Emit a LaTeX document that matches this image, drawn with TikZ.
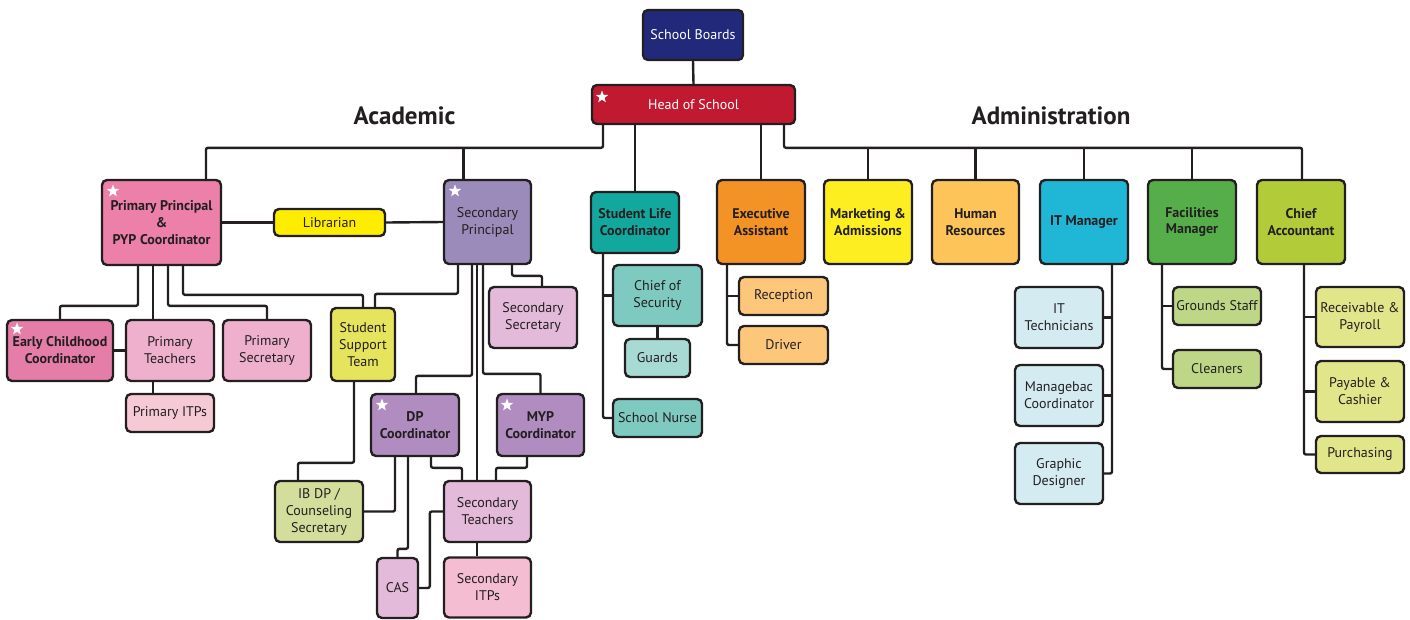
\documentclass[tikz,border=0pt]{standalone}
\usepackage{fontspec}
\setmainfont{PT Sans}
\usetikzlibrary{shapes.geometric}
\definecolor{ln}{HTML}{231F20}
\definecolor{txt}{HTML}{231F20}
\definecolor{cSB}{HTML}{23297A}
\definecolor{cHoS}{HTML}{C1192F}
\definecolor{cPP}{HTML}{EC80A8}
\definecolor{cLib}{HTML}{FFED00}
\definecolor{cSP}{HTML}{9A8BBB}
\definecolor{cSLC}{HTML}{13A89E}
\definecolor{cEA}{HTML}{F39325}
\definecolor{cMA}{HTML}{FCEE21}
\definecolor{cHR}{HTML}{FDC45A}
\definecolor{cIT}{HTML}{1FB7D5}
\definecolor{cFM}{HTML}{56AE4A}
\definecolor{cCA}{HTML}{B2CB38}
\definecolor{cECC}{HTML}{E57DA9}
\definecolor{cPT}{HTML}{EEB0CD}
\definecolor{cPITP}{HTML}{F6CAD5}
\definecolor{cSST}{HTML}{E6E35C}
\definecolor{cSS}{HTML}{E3BAD9}
\definecolor{cDP}{HTML}{B08CC0}
\definecolor{cIB}{HTML}{D3DD9C}
\definecolor{cSITP}{HTML}{F4BDD2}
\definecolor{cCoS}{HTML}{7ECAC0}
\definecolor{cGu}{HTML}{A8DAD4}
\definecolor{cRec}{HTML}{FCC77B}
\definecolor{cITT}{HTML}{D3EBF1}
\definecolor{cGS}{HTML}{BDD786}
\definecolor{cRP}{HTML}{E2E68A}
\tikzset{
  box/.style={draw=ln, line width=2.4pt, rounded corners=5pt, align=center,
    inner sep=1pt, text=txt, font=\fontsize{14}{17}\selectfont},
  bbox/.style={box, font=\fontsize{14}{17}\selectfont\bfseries},
  wh/.style 2 args={minimum width=#1, minimum height=#2},
  conn/.style={draw=ln, line width=2.4pt, rounded corners=2pt},
  starn/.style={star, star points=5, star point ratio=2.4, fill=white,
    draw=none, minimum size=13pt, inner sep=0pt},
  head/.style={text=txt, font=\fontsize{25}{30}\selectfont\bfseries}
}
\begin{document}
\begin{tikzpicture}[x=1pt,y=-1pt]
\useasboundingbox (0,0) rectangle (1410,619);
% top
\node[box,fill=cSB,text=white,wh={100}{50}] (sb) at (693,35) {School Boards};
\node[box,fill=cHoS,text=white,wh={203}{39}] (hos) at (693.5,104.5) {Head of School};
\node[head] (acad) at (404.5,116) {Academic};
\node[head] (admin) at (1051,116) {Administration};
% row 1
\node[bbox,fill=cPP,wh={119}{85}] (pp) at (161.5,222.5) {Primary Principal\\\&\\PYP Coordinator};
\node[box,fill=cLib,wh={111}{27}] (lib) at (329.5,222.5) {Librarian};
\node[box,fill=cSP,wh={87}{84}] (sp) at (487.5,222) {Secondary\\Principal};
\node[bbox,fill=cSLC,wh={88}{61}] (slc) at (635,222.5) {Student Life\\Coordinator};
\node[bbox,fill=cEA,wh={88}{84}] (ea) at (761,222) {Executive\\Assistant};
\node[bbox,fill=cMA,wh={88}{84}] (ma) at (868,222) {Marketing \&\\Admissions};
\node[bbox,fill=cHR,wh={87}{84}] (hr) at (975.5,222) {Human\\Resources};
\node[bbox,fill=cIT,wh={88}{84}] (it) at (1084,222) {IT Manager};
\node[bbox,fill=cFM,wh={88}{84}] (fm) at (1192,222) {Facilities\\Manager};
\node[bbox,fill=cCA,wh={88}{84}] (ca) at (1301,222) {Chief\\Accountant};
% primary
\node[bbox,fill=cECC,wh={106}{61}] (ecc) at (60,350.5) {Early Childhood\\Coordinator};
\node[box,fill=cPT,wh={88}{61}] (pt) at (170,350.5) {Primary\\Teachers};
\node[box,fill=cPT,wh={88}{61}] (ps) at (267,350.5) {Primary\\Secretary};
\node[box,fill=cPITP,wh={88}{38}] (pitp) at (170,413) {Primary ITPs};
\node[box,fill=cSST,wh={64}{73}] (sst) at (363,344.5) {Student\\Support\\Team};
% secondary
\node[box,fill=cSS,wh={88}{61}] (ss) at (533,317.5) {Secondary\\Secretary};
\node[bbox,fill=cDP,wh={88}{62}] (dp) at (415,425) {DP\\Coordinator};
\node[bbox,fill=cDP,wh={87}{62}] (myp) at (540.5,425) {MYP\\Coordinator};
\node[box,fill=cIB,wh={88}{61}] (ibdp) at (319,511.5) {IB DP /\\Counseling\\Secretary};
\node[box,fill=cSS,wh={87}{61}] (st) at (487.5,511.5) {Secondary\\Teachers};
\node[box,fill=cSS,wh={41}{60},inner sep=0pt] (cas) at (397.5,588) {CAS};
\node[box,fill=cSITP,wh={87}{60}] (sitp) at (487.5,587.5) {Secondary\\ITPs};
% student life
\node[box,fill=cCoS,wh={89}{61}] (cos) at (657.5,295.5) {Chief of\\Security};
\node[box,fill=cGu,wh={65}{38}] (guards) at (657.5,358) {Guards};
\node[box,fill=cCoS,wh={89}{38}] (sn) at (657.5,418) {School Nurse};
% executive
\node[box,fill=cRec,wh={89}{38}] (rec) at (783.5,296) {Reception};
\node[box,fill=cRec,wh={89}{38}] (drv) at (783.5,345) {Driver};
% IT
\node[box,fill=cITT,wh={88}{61}] (itt) at (1059,317.5) {IT\\Technicians};
\node[box,fill=cITT,wh={88}{61}] (mbc) at (1059,395.5) {Managebac\\Coordinator};
\node[box,fill=cITT,wh={88}{61}] (gd) at (1059,473.5) {Graphic\\Designer};
% facilities
\node[box,fill=cGS,wh={88}{38}] (gs) at (1217,306) {Grounds Staff};
\node[box,fill=cGS,wh={88}{38}] (cl) at (1217,369) {Cleaners};
% accountant
\node[box,fill=cRP,wh={88}{60}] (rp) at (1360,317) {Receivable \&\\Payroll};
\node[box,fill=cRP,wh={88}{61}] (pc) at (1360,391.5) {Payable \&\\Cashier};
\node[box,fill=cRP,wh={88}{37}] (pu) at (1360,454.5) {Purchasing};
% stars
\node[starn] (s1) at (602,97) {};
\node[starn] (s2) at (113,191) {};
\node[starn] (s3) at (455,191) {};
\node[starn] (s4) at (17,329) {};
\node[starn] (s5) at (382,405) {};
\node[starn] (s6) at (507,405) {};
% connectors top
\draw[conn] (sb.south) -- (hos.north);
\draw[conn] ([xshift=-90.5pt]hos.south) |- ([xshift=44.5pt,yshift=31pt]pp.north) -- ([xshift=44.5pt]pp.north);
\draw[conn] ([xshift=-24pt,yshift=31pt]sp.north) -- ([xshift=-24pt]sp.north);
\draw[conn] (slc.north |- hos.south) -- (slc.north);
\draw[conn] (ea.north |- hos.south) -- (ea.north);
\draw[conn] ([xshift=90.5pt]hos.south) |- ([xshift=1pt,yshift=31pt]ca.north) -- ([xshift=1pt]ca.north);
\foreach \n in {ma,hr,it,fm} \draw[conn] ([yshift=31pt]\n.north) -- (\n.north);
% primary
\draw[conn] (pp.east) -- (lib.west);
\draw[conn] (lib.east) -- (sp.west);
\draw[conn] ([xshift=-23.5pt]pp.south) |- ([yshift=13pt]ecc.north) -- (ecc.north);
\draw[conn] ([xshift=-8.5pt]pp.south) -- ([xshift=-17pt]pt.north);
\draw[conn] ([xshift=6.5pt]pp.south) |- ([yshift=13pt]ps.north) -- (ps.north);
\draw[conn] ([xshift=21.5pt]pp.south) |- ([yshift=12pt]sst.north) -- (sst.north);
\draw[conn] (ecc.east) -- (pt.west);
\draw[conn] ([xshift=-17pt]pt.south) -- ([xshift=-17pt]pitp.north);
% secondary
\draw[conn] ([xshift=-29.5pt]sp.south) |- ([xshift=12pt,yshift=13pt]sst.north) -- ([xshift=12pt]sst.north);
\draw[conn] ([xshift=-15.5pt]sp.south) |- ([xshift=1pt,yshift=17pt]dp.north) -- ([xshift=1pt]dp.north);
\draw[conn] ([xshift=-10.5pt]sp.south) -- ([xshift=-10.5pt]st.north);
\draw[conn] ([xshift=-4.5pt]sp.south) |- ([yshift=19pt]myp.north) -- (myp.north);
\draw[conn] ([xshift=24.5pt]sp.south) |- ([xshift=9pt,yshift=10pt]ss.north) -- ([xshift=9pt]ss.north);
\draw[conn] ([xshift=-9pt]sst.south) |- ([xshift=-21pt,yshift=17pt]ibdp.north) -- ([xshift=-21pt]ibdp.north);
\draw[conn] ([xshift=-20pt]dp.south) |- (ibdp.east);
\draw[conn] ([xshift=-7pt]dp.south) |- ([yshift=8pt]cas.north) -- (cas.north);
\draw[conn] ([xshift=16pt]dp.south) |- ([xshift=-25.5pt,yshift=12pt]st.north) -- ([xshift=-25.5pt]st.north);
\draw[conn] ([xshift=-13.5pt]myp.south) |- ([xshift=8.5pt,yshift=12pt]st.north) -- ([xshift=8.5pt]st.north);
\draw[conn] (st.west) -- ++(-13,0) |- (cas.east);
\draw[conn] ([xshift=-10.5pt]st.south) -- ([xshift=-10.5pt]sitp.north);
% student life
\draw[conn] ([xshift=-32pt]slc.south) |- (sn.west);
\draw[conn] (cos.west) -- ++(-10,0);
\draw[conn] (cos.south) -- (guards.north);
% executive
\draw[conn] ([xshift=-34pt]ea.south) |- (drv.west);
\draw[conn] (rec.west) -- ++(-12,0);
% IT
\draw[conn] ([xshift=28pt]it.south) |- (gd.east);
\draw[conn] (itt.east) -- ++(9,0);
\draw[conn] (mbc.east) -- ++(9,0);
% facilities
\draw[conn] ([xshift=-30pt]fm.south) |- (cl.west);
\draw[conn] (gs.west) -- ++(-11,0);
% accountant
\draw[conn] ([xshift=3pt]ca.south) |- (pu.west);
\draw[conn] (rp.west) -- ++(-12,0);
\draw[conn] (pc.west) -- ++(-12,0);
\end{tikzpicture}
\end{document}
